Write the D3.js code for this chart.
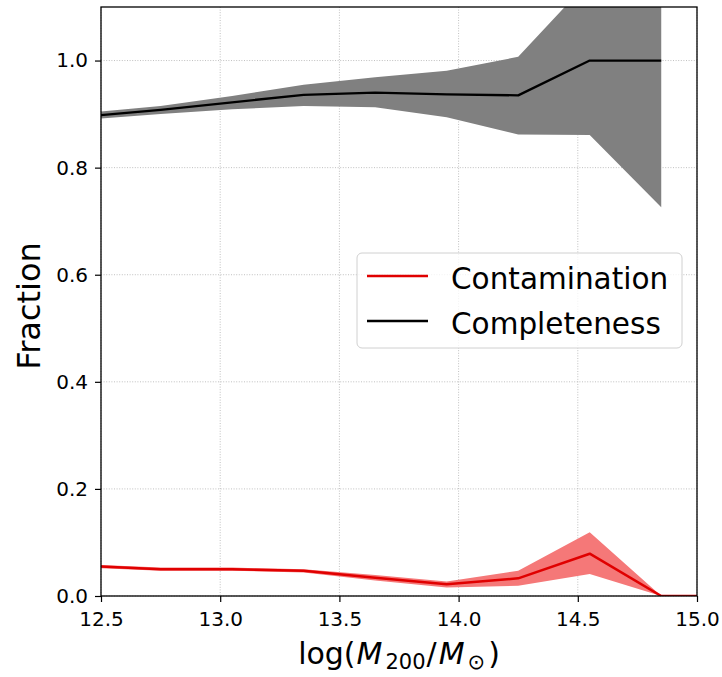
<!DOCTYPE html>
<html>
<head>
<meta charset="utf-8">
<script src="https://cdn.jsdelivr.net/npm/d3@7"></script>
<style>
  html, body { margin: 0; padding: 0; background: #fff; }
  svg { display: block; }
  text { font-family: "DejaVu Sans", sans-serif; fill: #000; }
</style>
</head>
<body>
<svg id="chart" width="722" height="677"></svg>
<script>
// ---- data ----
const massBins      = [12.45, 12.75, 13.05, 13.35, 13.65, 13.95, 14.25, 14.55, 14.85, 15.15];
const completeness  = [0.896, 0.908, 0.922, 0.936, 0.940, 0.937, 0.935, 1.000, 1.000, null];
const complLow      = [0.890, 0.900, 0.909, 0.915, 0.913, 0.894, 0.862, 0.861, 0.726, null];
const complHigh     = [0.903, 0.915, 0.934, 0.955, 0.969, 0.981, 1.007, 1.150, 1.280, null];
const contamination = [0.056, 0.050, 0.050, 0.047, 0.034, 0.022, 0.033, 0.079, 0.000, 0.000];
const contLow       = [0.053, 0.047, 0.047, 0.044, 0.029, 0.016, 0.019, 0.041, 0.000, 0.000];
const contHigh      = [0.059, 0.053, 0.053, 0.050, 0.039, 0.027, 0.047, 0.119, 0.000, 0.000];
const xTicks = [12.5, 13.0, 13.5, 14.0, 14.5, 15.0];
const yTicks = [0.0, 0.2, 0.4, 0.6, 0.8, 1.0];
const legendLabels = ["Contamination", "Completeness"];

// ---- layout ----
const svg = d3.select("#chart");
const L = 101, R = 697, T = 7, B = 596;
const x = d3.scaleLinear().domain([12.5, 15.0]).range([L, R]);
const y = d3.scaleLinear().domain([0, 1.1]).range([B, T]);

svg.append("defs").append("clipPath").attr("id", "plotclip")
  .append("rect").attr("x", L).attr("y", T).attr("width", R - L).attr("height", B - T);

// grid
const grid = svg.append("g");
grid.selectAll(".gx").data(xTicks).enter().append("line")
  .attr("x1", d => x(d)).attr("x2", d => x(d)).attr("y1", T).attr("y2", B)
  .attr("stroke", "#b0b0b0").attr("stroke-width", 0.8).attr("stroke-dasharray", "1,1.6");
grid.selectAll(".gy").data(yTicks).enter().append("line")
  .attr("x1", L).attr("x2", R).attr("y1", d => y(d)).attr("y2", d => y(d))
  .attr("stroke", "#b0b0b0").attr("stroke-width", 0.8).attr("stroke-dasharray", "1,1.6");

const idx = d3.range(massBins.length);
const plot = svg.append("g").attr("clip-path", "url(#plotclip)");

const area = (lo, hi) => d3.area()
  .defined(i => lo[i] !== null && hi[i] !== null)
  .x(i => x(massBins[i])).y0(i => y(lo[i])).y1(i => y(hi[i]));
const line = (v) => d3.line()
  .defined(i => v[i] !== null)
  .x(i => x(massBins[i])).y(i => y(v[i]));

plot.append("path").attr("d", area(contLow, contHigh)(idx))
  .attr("fill", "#f57878");
plot.append("path").attr("d", area(complLow, complHigh)(idx))
  .attr("fill", "#808080");
plot.append("path").attr("d", line(contamination)(idx))
  .attr("fill", "none").attr("stroke", "#e00000").attr("stroke-width", 2.5)
  .attr("stroke-linejoin", "round");
plot.append("path").attr("d", line(completeness)(idx))
  .attr("fill", "none").attr("stroke", "#000").attr("stroke-width", 2.3)
  .attr("stroke-linejoin", "round");

// axes
const xAxis = d3.axisBottom(x).tickValues(xTicks).tickFormat(d3.format(".1f")).tickSize(6).tickPadding(10);
const yAxis = d3.axisLeft(y).tickValues(yTicks).tickFormat(d3.format(".1f")).tickSize(6).tickPadding(7);
const gx = svg.append("g").attr("transform", `translate(0,${B})`).call(xAxis);
const gy = svg.append("g").attr("transform", `translate(${L},0)`).call(yAxis);
[gx, gy].forEach(g => {
  g.select(".domain").remove();
  g.selectAll("line").attr("stroke", "#000").attr("stroke-width", 1.2);
  g.selectAll("text").style("font-family", "DejaVu Sans").style("font-size", "20px").attr("fill", "#222");
});

// frame
svg.append("rect").attr("x", L).attr("y", T).attr("width", R - L).attr("height", B - T)
  .attr("fill", "none").attr("stroke", "#000").attr("stroke-width", 1.3);

// axis labels
const xl = svg.append("text").attr("x", (L + R) / 2).attr("y", 664)
  .attr("text-anchor", "middle").style("font-size", "30px");
xl.append("tspan").text("log(");
xl.append("tspan").attr("dx", 1).style("font-style", "italic").text("M");
xl.append("tspan").attr("dx", 3).attr("dy", 5).style("font-size", "21px").text("200");
xl.append("tspan").attr("dx", 1).attr("dy", -5).text("/");
xl.append("tspan").attr("dx", 2).style("font-style", "italic").text("M");
xl.append("tspan").attr("dx", 3).attr("dy", 5).style("font-size", "21px").text("\u2299");
xl.append("tspan").attr("dx", 3).attr("dy", -5).text(")");

svg.append("text").attr("transform", `translate(40,306) rotate(-90)`)
  .attr("text-anchor", "middle").style("font-size", "32px").text("Fraction");

// legend
const lg = svg.append("g");
lg.append("rect").attr("x", 357).attr("y", 253).attr("width", 325).attr("height", 95)
  .attr("rx", 5).attr("fill", "#fff").attr("fill-opacity", 0.8)
  .attr("stroke", "#d0d0d0").attr("stroke-width", 1);
const legColors = ["#e00000", "#000"];
legendLabels.forEach((lab, i) => {
  const ly = 276 + i * 45;
  lg.append("line").attr("x1", 367).attr("x2", 428).attr("y1", ly).attr("y2", ly)
    .attr("stroke", legColors[i]).attr("stroke-width", 2.3);
  lg.append("text").attr("x", 451).attr("y", ly + 13).style("font-size", "29.5px").text(lab);
});
</script>
</body>
</html>
